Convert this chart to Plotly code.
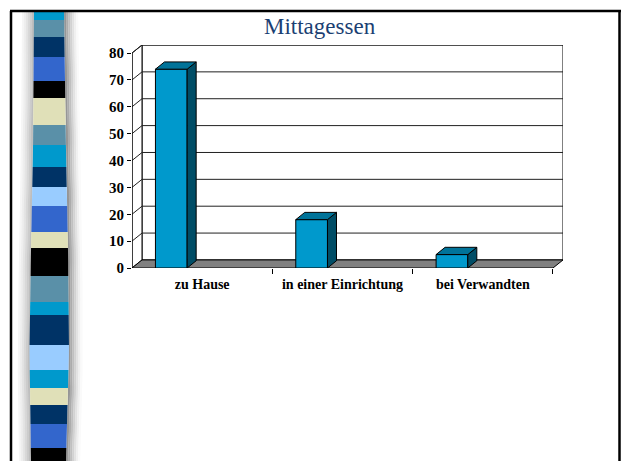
import numpy as np
import plotly.graph_objects as go

# ---- data ----
categories = ["zu Hause", "in einer Einrichtung", "bei Verwandten"]
values = [74, 18, 5]
y_ticks = [0, 10, 20, 30, 40, 50, 60, 70, 80]
title_text = "Mittagessen"

# ---- 3D geometry (in data units) ----
DX = 0.0713   # depth offset in category units
DY = 3.0      # depth offset in value units
BAR_L = 0.167
BAR_W = 0.226
BDX = DX * 0.9
BDY = DY * 0.9
YMAX = 80
NC = len(categories)

FRONT = "#0099CC"
TOP = "#007399"
SIDE = "#004D66"

fig = go.Figure()

def poly(xs, ys, fill, lw=1):
    fig.add_trace(go.Scatter(x=xs, y=ys, mode="lines", fill="toself",
                             fillcolor=fill, line=dict(color="black", width=lw),
                             hoverinfo="skip", showlegend=False))

def line(xs, ys, color="black", w=1):
    fig.add_trace(go.Scatter(x=xs, y=ys, mode="lines",
                             line=dict(color=color, width=w),
                             hoverinfo="skip", showlegend=False))

# back wall & left wall
poly([DX, NC + DX, NC + DX, DX, DX], [DY, DY, YMAX + DY, YMAX + DY, DY], "white")
poly([0, DX, DX, 0, 0], [0, DY, YMAX + DY, YMAX, 0], "white")

# gridlines
gx, gy = [], []
for t in y_ticks[1:]:
    gx += [0, DX, NC + DX, None]
    gy += [t, t + DY, t + DY, None]
line(gx, gy, "#202020", 1)

# floor
poly([0, NC, NC + DX, DX, 0], [0, 0, DY, DY, 0], "#808080")

# front vertical axis
line([0, 0], [0, YMAX], "black", 1)

# bars
for i, v in enumerate(values):
    l = i + BAR_L
    r = l + BAR_W
    poly([l, r, r, l, l], [0, 0, v, v, 0], FRONT)
    poly([r, r + BDX, r + BDX, r, r], [0, BDY, v + BDY, v, 0], SIDE)
    poly([l, r, r + BDX, l + BDX, l], [v, v, v + BDY, v + BDY, v], TOP)

# ---- slide decoration (pixel -> paper) ----
L, R, T, B = 132, 563, 45, 268
def px(x):
    return (x - L) / (R - L)
def py(y):
    return (B - y) / (B - T)

shapes = []
edge_y = [12, 150, 250, 350, 461]
edge_l = [34, 33, 31, 29.5, 31]
edge_r = [64, 66, 68, 69, 66]

def path_band(y0, y1):
    ys = np.linspace(y0, y1, 4)
    left_pts = []
    right_pts = []
    for y in ys:
        le = np.interp(y, edge_y, edge_l)
        re = np.interp(y, edge_y, edge_r)
        left_pts.append((le, y))
        right_pts.append((re, y))
    pts = left_pts + right_pts[::-1]
    return "M " + " L ".join(f"{px(x):.5f},{py(y):.5f}" for x, y in pts) + " Z"

def edge_strip(edges, start, step, k):
    ys = np.linspace(12, 461, 6)
    pts = []
    for y in ys:
        e = np.interp(y, edge_y, edges)
        pts.append((e + start + step * k, y))
    for y in ys[::-1]:
        e = np.interp(y, edge_y, edges)
        pts.append((e + start + step * k + step + 0.2, y))
    return "M " + " L ".join(f"{px(x):.5f},{py(yy):.5f}" for x, yy in pts) + " Z"

# shadows
for k, g in enumerate([150, 172, 192, 210, 226, 240, 250]):
    shapes.append(dict(type="path", xref="paper", yref="paper",
                       path=edge_strip(edge_r, 0, 2, k),
                       fillcolor=f"rgb({g},{g},{g})", line=dict(width=0), layer="below"))
for k, g in enumerate([246, 238, 228, 216, 204, 190]):
    shapes.append(dict(type="path", xref="paper", yref="paper",
                       path=edge_strip(edge_l, -12, 2, k),
                       fillcolor=f"rgb({g},{g},{g})", line=dict(width=0), layer="below"))

C = "#0099CC"; S = "#5A90A8"; N = "#003366"; RB = "#3366CC"
K = "#000000"; CR = "#E0E0B8"; LB = "#99CCFF"
bands = [(12, 20, C), (20, 37, S), (37, 57, N), (57, 81, RB), (81, 98, K),
         (98, 125, CR), (125, 145, S), (145, 167, C), (167, 187, N),
         (187, 206, LB), (206, 232, RB), (232, 248, CR), (248, 276, K),
         (276, 302, S), (302, 315, C), (315, 345, N), (345, 370, LB),
         (370, 388, C), (388, 405, CR), (405, 424, N), (424, 448, RB),
         (448, 462, K)]
for y0, y1, col in bands:
    shapes.append(dict(type="path", xref="paper", yref="paper",
                       path=path_band(y0, y1), fillcolor=col,
                       line=dict(width=0), layer="below"))

# slide frame
for x0, y0, x1, y1 in [(10, 11, 621, 11), (11, 11, 11, 462), (619.5, 11, 619.5, 462)]:
    shapes.append(dict(type="line", xref="paper", yref="paper",
                       x0=px(x0), y0=py(y0), x1=px(x1), y1=py(y1),
                       line=dict(color="black", width=2.5), layer="above"))

fig.update_layout(
    width=624, height=461, autosize=False,
    margin=dict(l=L, r=624 - R, t=T, b=461 - B),
    paper_bgcolor="white", plot_bgcolor="white",
    shapes=shapes,
    annotations=[dict(text=title_text, xref="paper", yref="paper",
                      x=px(320), y=py(27), xanchor="center", yanchor="middle",
                      showarrow=False,
                      font=dict(family="Liberation Serif", size=23, color="#1B3F73"))],
    xaxis=dict(range=[0, NC + DX], showgrid=False, zeroline=False, showline=False,
               tickvals=[i + 0.5 for i in range(NC)], ticktext=categories,
               ticks="", ticklen=0, ticklabelstandoff=6,
               tickfont=dict(family="Liberation Serif", size=14, color="black", weight="bold"),
               minor=dict(tickvals=list(range(1, NC + 1)), ticks="outside", ticklen=5,
                          tickcolor="black", tickwidth=1, showgrid=False),
               fixedrange=True),
    yaxis=dict(range=[0, YMAX + DY], showgrid=False, zeroline=False, showline=False,
               tickvals=y_ticks, ticktext=[str(t) for t in y_ticks],
               ticks="outside", ticklen=4, tickcolor="black",
               tickfont=dict(family="Liberation Serif", size=15, color="black", weight="bold"),
               fixedrange=True),
)

fig.write_html("out.html", config={"displayModeBar": False},
               post_script="document.body.style.margin='0';document.body.style.overflow='hidden';")
